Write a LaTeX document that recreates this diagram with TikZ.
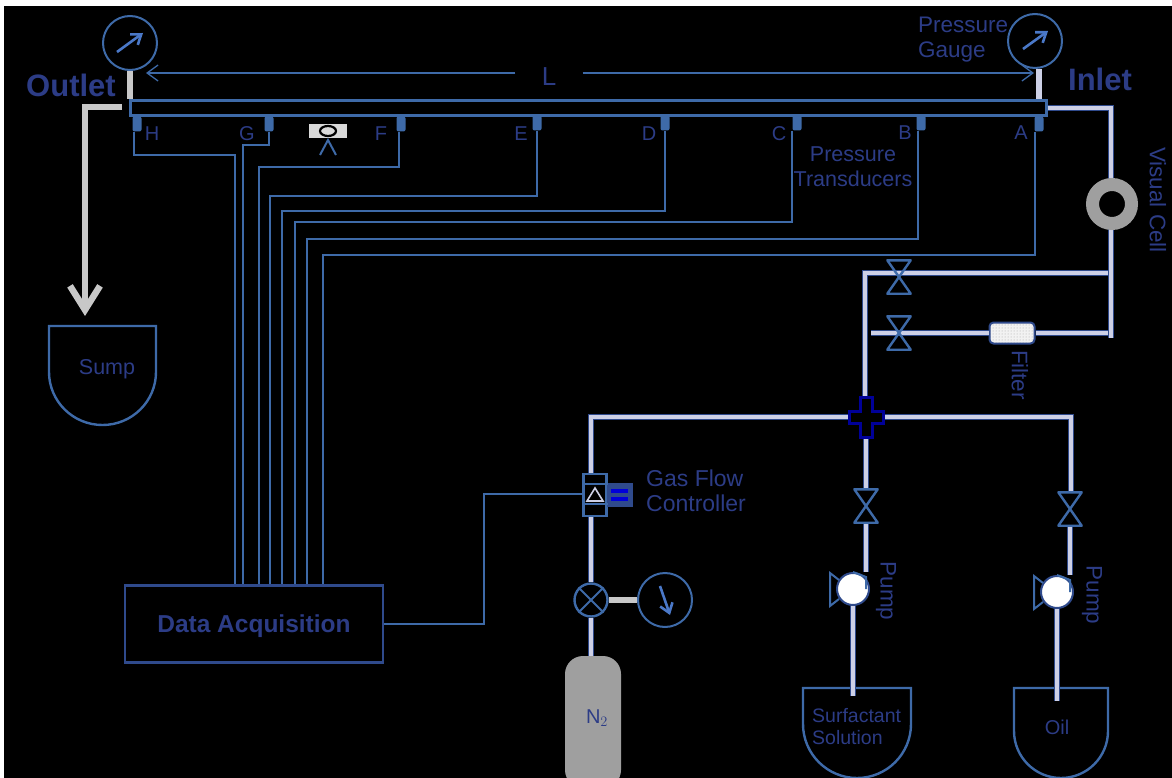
\documentclass[tikz,border=0pt]{standalone}
\usepackage{xcolor}
\usepackage{fontspec}
\setmainfont{Liberation Sans}
\usetikzlibrary{arrows.meta,shapes.geometric,patterns}
\definecolor{linecol}{HTML}{3E6AA8}
\definecolor{textcol}{HTML}{2C3C86}
\definecolor{darkedge}{HTML}{2F4A8C}
\definecolor{pipecol}{HTML}{CDD0E6}
\definecolor{greycol}{HTML}{C8C8C8}
\definecolor{tipcol}{HTML}{4A78C8}
\tikzset{
  pipe/.style={draw=darkedge,line width=1.2pt,double=pipecol,double distance=4.2pt},
  greypipe/.style={draw=greycol,line width=6.5pt},
  signal/.style={draw=linecol,line width=1.3pt},
  label/.style={text=textcol,inner sep=0pt,font=\fontsize{22.5}{25}\selectfont,align=left},
  tag/.style={text=textcol,inner sep=0pt,font=\fontsize{20}{24}\selectfont},
  headline/.style={text=textcol,inner sep=0pt,font=\bfseries\fontsize{31}{36}\selectfont},
  gauge/.style={circle,draw=linecol,line width=2pt,fill=black,minimum size=54pt,inner sep=0pt},
  needle/.style={draw=tipcol,line width=2.6pt,-{Straight Barb[length=9pt,width=13pt]}},
  port/.style={rectangle,rounded corners=2pt,fill=linecol,minimum width=9pt,minimum height=15pt,inner sep=0pt},
  valvebox/.style={rectangle,minimum width=23pt,minimum height=33pt,inner sep=0pt},
  bowtie/.style={draw=linecol,line width=2.4pt,line join=round},
  tank/.style={draw=linecol,line width=2.4pt},
  pumpbody/.style={circle,draw=darkedge,line width=2pt,fill=white,minimum size=32pt,inner sep=0pt},
  barb/.style={-{Straight Barb[length=11pt,width=16pt]}}
}
\begin{document}
\begin{tikzpicture}[x=1pt,y=-1pt]
\useasboundingbox (0,0) rectangle (1172,778);
\fill[black] (4,6) rectangle (1172,778);
% named points on the lines
\coordinate (spanL) at (146,73);
\coordinate (spanR) at (1034,73);
\coordinate (outStart) at (122,107);
\coordinate (outBend) at (85,107);
\coordinate (outTip) at (85,316);
\coordinate (inBend) at (1111,108);
\coordinate (inEnd) at (1111,338);
\coordinate (upperEnd) at (1108,273);
\coordinate (lowerEnd) at (1108,333);
\coordinate (upperBend) at (865,273);
\coordinate (lowerStart) at (871,333);
\coordinate (leftBend) at (591,417);
\coordinate (rightBend) at (1071,417);
\coordinate (surfIn) at (853,696);
\coordinate (oilIn) at (1057,701);
\coordinate (bendH) at (235,155);
\coordinate (bendG) at (243,145);
\coordinate (bendF) at (259,167);
\coordinate (bendE) at (270,196);
\coordinate (bendD) at (282,211);
\coordinate (bendC) at (295,222);
\coordinate (bendB) at (307,239);
\coordinate (bendA) at (323,255);
\coordinate (bendGas) at (484,624);
\coordinate (gasIn) at (583,494);
% main nodes
\node[gauge] (gaugeOut) at (130,43) {};
\node[gauge] (gaugeIn) at (1035,41) {};
\node[gauge] (gaugeGas) at (665,600) {};
\node[rectangle,draw=linecol,line width=3pt,minimum width=916pt,minimum height=15pt,inner sep=0pt] (tube) at (588,108) {};
\node[rectangle,draw=darkedge,line width=2.4pt,minimum width=258pt,minimum height=77pt,inner sep=0pt,text=textcol,text height=16pt,text depth=0pt,font=\bfseries\fontsize{24.5}{28}\selectfont] (daq) at (254,624) {Data Acquisition};
\node[circle,draw=linecol,line width=2.4pt,fill=black,minimum size=33pt,inner sep=0pt] (shutoff) at (591,600) {};
\node[rectangle,rounded corners=4pt,draw=darkedge,line width=2pt,preaction={fill=gray!10},pattern=dots,pattern color=gray!70,minimum width=45pt,minimum height=21pt,inner sep=0pt] (filter) at (1012,333) {};
\node[circle,minimum size=39pt,inner sep=0pt] (cell) at (1112,204) {};
\node[valvebox] (valveUp) at (899,277) {};
\node[valvebox] (valveLow) at (899,333) {};
\node[valvebox] (valveSurf) at (866,506) {};
\node[valvebox] (valveOil) at (1070,509) {};
\node[rectangle,minimum width=35pt,minimum height=41pt,inner sep=0pt] (junction) at (866,417) {};
\node[pumpbody] (pumpSurf) at (853,589) {};
\node[pumpbody] (pumpOil) at (1057,592) {};
\node[rectangle,rounded corners=18pt,fill=gray!75,minimum width=56pt,minimum height=132pt,inner sep=0pt] (bottle) at (593,722) {};
\node[rectangle,draw=linecol,line width=2.2pt,fill=black,minimum width=23pt,minimum height=42pt,inner sep=0pt] (flowbox) at (595,495) {};
\node[rectangle,fill=darkedge,minimum width=26pt,minimum height=24pt,inner sep=0pt] (flowhead) at (620,495) {};
% transducers
\node[port] (portH) at (137,124) {};
\node[port] (portG) at (269,124) {};
\node[port] (portF) at (401,124) {};
\node[port] (portE) at (537,123) {};
\node[port] (portD) at (665,123) {};
\node[port] (portC) at (797,123) {};
\node[port] (portB) at (921,123) {};
\node[port] (portA) at (1039,124) {};
\draw[signal] ([xshift=-3pt]portH.south) |- (bendH) -- (bendH |- daq.north);
\draw[signal] (portG.south) |- (bendG) -- (bendG |- daq.north);
\draw[signal] ([xshift=-2pt]portF.south) |- (bendF) -- (bendF |- daq.north);
\draw[signal] (portE.south) |- (bendE) -- (bendE |- daq.north);
\draw[signal] (portD.south) |- (bendD) -- (bendD |- daq.north);
\draw[signal] ([xshift=-5pt]portC.south) |- (bendC) -- (bendC |- daq.north);
\draw[signal] ([xshift=-3pt]portB.south) |- (bendB) -- (bendB |- daq.north);
\draw[signal] ([xshift=-4pt]portA.south) |- (bendA) -- (bendA |- daq.north);
\draw[signal] (daq.east) -- (bendGas) |- (gasIn);
\node[tag] (labelH) at (152,134) {H};
\node[tag] (labelG) at (247,134) {G};
\node[tag] (labelF) at (381,134) {F};
\node[tag] (labelE) at (521,134) {E};
\node[tag] (labelD) at (649,134) {D};
\node[tag] (labelC) at (779,134) {C};
\node[tag] (labelB) at (905,133) {B};
\node[tag] (labelA) at (1021,133) {A};
% length mark
\node[text=textcol,inner sep=0pt,minimum width=67pt,font=\fontsize{26}{30}\selectfont] (lengthL) at (549,77) {L};
\draw[signal,barb] (lengthL.west |- spanL) -- (spanL);
\draw[signal,barb] (lengthL.east |- spanR) -- (spanR);
% pipes
\draw[greypipe] (gaugeOut.south) -- (gaugeOut.south |- tube.north);
\draw[draw=pipecol,line width=6.5pt] (gaugeIn.south -| portA) -- (portA |- tube.north);
\draw[greypipe,-{Straight Barb[length=24pt,width=30pt]}] (outStart) -- (outBend) -- (outTip);
\draw[pipe] (tube.east) -- (inBend) -- (inEnd);
\draw[pipe] (upperEnd) -- (upperBend) -- (junction.north -| upperBend);
\draw[pipe] (lowerEnd) -- (filter.east);
\draw[pipe] (filter.west) -- (lowerStart);
\draw[pipe] (junction.west) -- (leftBend) -- (flowbox.north -| leftBend);
\draw[pipe] (junction.east) -- (rightBend) -- (valveOil.north -| rightBend);
\draw[pipe] (junction.south) -- (valveSurf.north);
\draw[pipe] (valveSurf.south) -- (valveSurf.south |- pumpSurf.north);
\draw[pipe] (valveOil.south) -- (valveOil.south |- pumpOil.north);
\draw[pipe] (flowbox.south -| leftBend) -- (shutoff.north);
\draw[pipe] (shutoff.south) -- (bottle.north -| shutoff);
\draw[draw=greycol,line width=6pt] (shutoff.east) -- (gaugeGas.west);
% symbols on the pipes
\node[circle,draw=gray!75,line width=13pt,fill=black,minimum size=39pt,inner sep=0pt] (cellTop) at (cell) {};
\draw[bowtie] (valveUp.north west) -- (valveUp.north east) -- (valveUp.south west) -- (valveUp.south east) -- cycle;
\draw[bowtie] (valveLow.north west) -- (valveLow.north east) -- (valveLow.south west) -- (valveLow.south east) -- cycle;
\draw[bowtie] (valveSurf.north west) -- (valveSurf.north east) -- (valveSurf.south west) -- (valveSurf.south east) -- cycle;
\draw[bowtie] (valveOil.north west) -- (valveOil.north east) -- (valveOil.south west) -- (valveOil.south east) -- cycle;
\draw[draw=blue!60!black,line width=3pt,fill=black] (junction.center) ++(-6,-20) -- ++(12,0) -- ++(0,14) -- ++(11,0) -- ++(0,12) -- ++(-11,0) -- ++(0,14) -- ++(-12,0) -- ++(0,-14) -- ++(-11,0) -- ++(0,-12) -- ++(11,0) -- cycle;
\draw[signal,line width=2pt] (shutoff.north west) -- (shutoff.south east);
\draw[signal,line width=2pt] (shutoff.north east) -- (shutoff.south west);
\draw[needle] ([shift={(-13,9)}]gaugeOut.center) -- ([shift={(13,-10)}]gaugeOut.center);
\draw[needle] ([shift={(-12,8)}]gaugeIn.center) -- ([shift={(13,-10)}]gaugeIn.center);
\draw[needle] ([shift={(-5,-14)}]gaugeGas.center) -- ([shift={(5,15)}]gaugeGas.center);
% pump casings
\draw[tank,line width=2pt] (pumpSurf.north) -- (pumpSurf.north east -| valveSurf.south) -- (valveSurf.south |- pumpSurf.east);
\draw[tank,line width=2pt] (pumpSurf.west) ++(3,-9) -- ++(-9,-7) -- ++(0,33) -- ++(9,-7);
\draw[tank,line width=2pt] (pumpOil.north) -- (pumpOil.north east -| valveOil.south) -- (valveOil.south |- pumpOil.east);
\draw[tank,line width=2pt] (pumpOil.west) ++(3,-9) -- ++(-9,-7) -- ++(0,33) -- ++(9,-7);
% gas flow controller
\draw[signal] (flowbox.west |- 0,484) -- (flowbox.east |- 0,484);
\draw[signal] (flowbox.west |- 0,504) -- (flowbox.east |- 0,504);
\draw[draw=pipecol,line width=1.6pt] (595,488) -- (603,501) -- (587,501) -- cycle;
\fill[blue!85!black] (611,489) rectangle (628,493);
\fill[blue!85!black] (611,497) rectangle (628,501);
% tanks
\draw[tank] (49,326) -- (49,372) arc (180:0:53.5 and 53) -- (156,326) -- cycle;
\draw[tank] (803,688) -- (803,724) arc (180:0:54 and 54) -- (911,688) -- cycle;
\draw[tank] (1014,688) -- (1014,731) arc (180:0:47 and 47) -- (1108,688) -- cycle;
\draw[pipe] (pumpSurf.south) -- (surfIn);
\draw[pipe] (pumpOil.south) -- (oilIn);
% camera
\node[rectangle,fill=gray!30,minimum width=38pt,minimum height=14pt,inner sep=0pt] (camera) at (328,131) {};
\node[ellipse,draw=black,line width=2.2pt,minimum width=16pt,minimum height=10pt,inner sep=0pt] (lens) at (camera) {};
\coordinate (legTop) at (328,140);
\coordinate (legL) at (320,155);
\coordinate (legR) at (336,155);
\draw[signal,line width=2pt] (legL) -- (legTop) -- (legR);
% texts
\node[headline] (outletText) at (71,85) {Outlet};
\node[headline] (inletText) at (1100,79) {Inlet};
\node[label,anchor=west] (gaugeText) at (918,39.5) {Pressure\\Gauge};
\node[label,align=center,font=\fontsize{21.5}{25}\selectfont] (transText) at (853,167) {Pressure\\Transducers};
\node[label,rotate=-90] (cellText) at (1158,200) {Visual Cell};
\node[label,rotate=-90] (filterText) at (1020,375) {Filter};
\node[label,anchor=west,font=\fontsize{23}{25}\selectfont] (flowText) at (646,491) {Gas Flow\\Controller};
\node[label,font=\fontsize{21.5}{25}\selectfont] (sumpText) at (107,369) {Sump};
\node[label,rotate=-90] (pumpTextA) at (886,591) {Pump};
\node[label,rotate=-90] (pumpTextB) at (1092,595) {Pump};
\node[label,anchor=west,font=\fontsize{19.5}{22}\selectfont] (surfText) at (812,727) {Surfactant\\Solution};
\node[tag] (oilText) at (1057,727) {Oil};
\node[text=textcol,inner sep=0pt,font=\fontsize{20}{22}\selectfont] (bottleText) at (597,718) {N$_2$};
\end{tikzpicture}
\end{document}
